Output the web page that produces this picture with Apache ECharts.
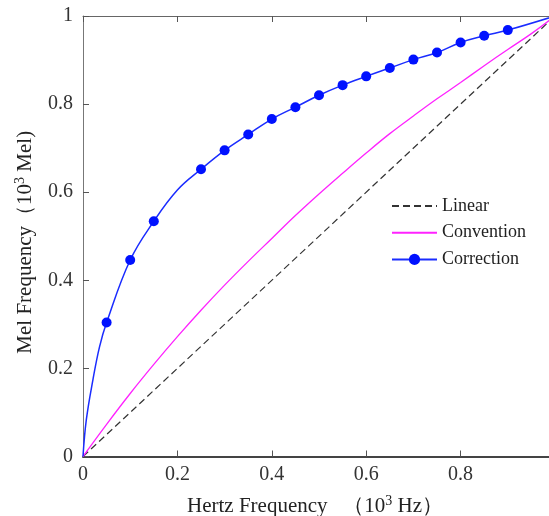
<!DOCTYPE html>
<html>
<head>
<meta charset="utf-8">
<script src="https://cdn.jsdelivr.net/npm/echarts@6/dist/echarts.min.js"></script>
<style>
html,body{margin:0;padding:0;background:#fff;}
#chart{width:549px;height:516px;}
</style>
</head>
<body>
<div id="chart"></div>
<script>
// ---- data ----
const seriesNames = ['Linear', 'Convention', 'Correction'];

const linearX = [0, 1];
const linearY = [0, 1];

const conventionX = [0, 0.05, 0.1, 0.15, 0.2, 0.25, 0.3, 0.35, 0.4, 0.45, 0.5, 0.55, 0.6, 0.65, 0.7, 0.75, 0.8, 0.85, 0.9, 0.95, 1.0];
const conventionY = [0, 0.073, 0.143, 0.209, 0.272, 0.332, 0.389, 0.443, 0.495, 0.547, 0.596, 0.643, 0.689, 0.733, 0.773, 0.812, 0.849, 0.887, 0.924, 0.960, 1.0];

const correctionX = [0, 0.007, 0.021, 0.035, 0.05, 0.1, 0.15, 0.2, 0.25, 0.3, 0.35, 0.4, 0.45, 0.5, 0.55, 0.6, 0.65, 0.7, 0.75, 0.8, 0.85, 0.9, 1.0];
const correctionY = [0, 0.083, 0.174, 0.249, 0.304, 0.446, 0.534, 0.605, 0.652, 0.695, 0.731, 0.766, 0.793, 0.820, 0.843, 0.863, 0.882, 0.901, 0.917, 0.940, 0.955, 0.968, 1.0];
// x positions where the Correction curve carries a marker
const correctionMarkerX = [0.05, 0.1, 0.15, 0.25, 0.3, 0.35, 0.4, 0.45, 0.5, 0.55, 0.6, 0.65, 0.7, 0.75, 0.8, 0.85, 0.9];

const xTicks = [0, 0.2, 0.4, 0.6, 0.8, 1];
const yTicks = [0, 0.2, 0.4, 0.6, 0.8, 1];

// ---- build ----
const zip = (xs, ys) => xs.map((x, i) => [x, ys[i]]);
const correctionData = correctionX.map((x, i) => {
  const marked = correctionMarkerX.some(m => Math.abs(m - x) < 1e-9);
  return marked ? { value: [x, correctionY[i]] } : { value: [x, correctionY[i]], symbol: 'none' };
});

const serif = '"Liberation Serif", "Times New Roman", serif';
const chart = echarts.init(document.getElementById('chart'), null, { renderer: 'canvas' });

const xCommon = {
  type: 'value',
  min: xTicks[0], max: xTicks[xTicks.length - 1], interval: 0.2,
  splitLine: { show: false }
};

chart.setOption({
  backgroundColor: '#ffffff',
  animation: false,
  // the reference picture is cropped on the right: x = 1 lies just outside the canvas
  grid: { left: 83, top: 16, width: 472, height: 440.5, containLabel: false, outerBoundsMode: 'none' },
  legend: {
    data: seriesNames,
    orient: 'vertical',
    left: 386,
    top: 192,
    itemWidth: 45,
    itemHeight: 14,
    itemGap: 8.7,
    textStyle: { fontFamily: serif, fontSize: 18, color: '#222', lineHeight: 18 }
  },
  xAxis: [Object.assign({}, xCommon, {
    position: 'bottom',
    name: 'Hertz Frequency   {p|（}10{sup|3} Hz{p|）}',
    nameLocation: 'middle',
    nameGap: 38,
    nameTextStyle: {
      fontFamily: serif, fontSize: 21, color: '#222', padding: [0, 8, 0, 0],
      rich: {
        sup: { fontFamily: serif, fontSize: 14, color: '#222', padding: [0, 0, 10, 0] },
        p: { fontFamily: serif, fontSize: 21, color: '#222' }
      }
    },
    axisLine: { show: true, lineStyle: { color: '#444', width: 2 } },
    axisTick: { show: true, inside: true, length: 6, lineStyle: { color: '#555' } },
    axisLabel: { fontFamily: serif, fontSize: 20, color: '#333', margin: 8, formatter: v => String(v) }
  }), Object.assign({}, xCommon, {
    position: 'top',
    axisLine: { show: true, lineStyle: { color: '#666', width: 1 } },
    axisTick: { show: true, inside: true, length: 6, lineStyle: { color: '#555' } },
    axisLabel: { show: false }
  })],
  yAxis: {
    type: 'value',
    min: yTicks[0], max: yTicks[yTicks.length - 1], interval: 0.2,
    name: 'Mel Frequency{p|（}10{sup|3} Mel)',
    nameLocation: 'middle',
    nameGap: 46,
    nameRotate: 90,
    nameTextStyle: {
      fontFamily: serif, fontSize: 21, color: '#222', padding: [0, 12, 0, 0],
      rich: {
        sup: { fontFamily: serif, fontSize: 14, color: '#222', padding: [0, 0, 10, 0] },
        p: { fontFamily: serif, fontSize: 21, color: '#222' }
      }
    },
    axisLine: { show: true, lineStyle: { color: '#777', width: 1 } },
    axisTick: { show: true, inside: true, length: 6, lineStyle: { color: '#555' } },
    axisLabel: { fontFamily: serif, fontSize: 20, color: '#333', margin: 10, formatter: v => String(v) },
    splitLine: { show: false }
  },
  series: [{
    name: seriesNames[0],
    type: 'line',
    data: zip(linearX, linearY),
    symbol: 'none',
    lineStyle: { color: '#333', width: 1.2, type: [7, 4] },
    itemStyle: { color: 'rgba(0,0,0,0)' }
  }, {
    name: seriesNames[1],
    type: 'line',
    data: zip(conventionX, conventionY),
    symbol: 'none',
    smooth: 0.4,
    lineStyle: { color: '#ff22ff', width: 1.3 },
    itemStyle: { color: 'rgba(0,0,0,0)' }
  }, {
    name: seriesNames[2],
    type: 'line',
    data: correctionData,
    symbol: 'circle',
    symbolSize: 10,
    showAllSymbol: true,
    smooth: 0.4,
    lineStyle: { color: '#1a2cff', width: 1.5 },
    itemStyle: { color: '#0011ff' }
  }]
});
</script>
</body>
</html>
